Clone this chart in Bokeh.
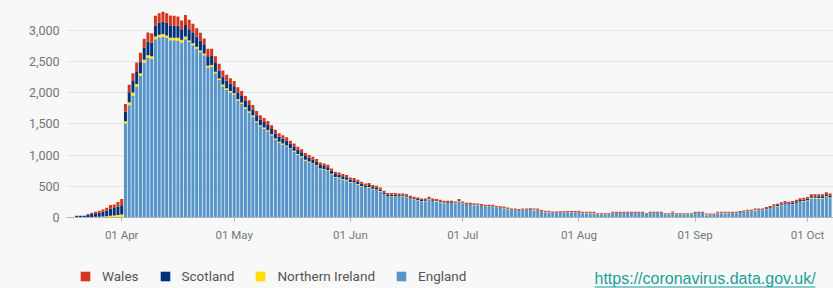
from datetime import datetime
import pandas as pd
from bokeh.plotting import figure
from bokeh.models import (ColumnDataSource, Range1d, FixedTicker, NumeralTickFormatter,
                          DatetimeTickFormatter, Legend, LegendItem, Label)
from bokeh.layouts import column
from bokeh.embed import file_html
from bokeh.resources import INLINE
from bokeh.core.properties import value

# ---------------- data ----------------
first_day = "2020-03-18"
last_day = "2020-10-07"

england = [
    0, 0, 0, 0, 0, 0, 0, 0, 0, 0, 0, 0, 0, 0, 0,
    1506, 1800, 1956, 2100, 2272, 2481, 2561, 2545, 2861, 2893, 2899, 2883, 2845, 2845, 2840, 2807, 2861, 2818,
    2765, 2710, 2650, 2602, 2408, 2419, 2313, 2205, 2107, 2051, 2007,
    1973, 1875, 1825, 1750, 1685, 1618, 1527, 1462, 1424, 1384, 1319, 1253, 1200, 1173, 1141,
    1098, 1057, 1006, 968, 912, 885, 860, 827, 776, 763, 746, 689, 640, 631, 609, 595,
    561, 553, 528, 498, 473, 482, 452, 441, 418, 367, 331, 334, 335, 332, 333, 325, 300, 285, 275, 260,
    261, 291, 264, 258, 245, 230, 231, 232, 222, 260,
    223, 202, 204, 198, 194, 185, 175, 175, 175, 155, 153, 148, 134, 119, 120, 110, 121, 121, 127, 113,
    122, 96, 85, 85, 75, 75, 79, 79, 82, 75, 82,
    87, 70, 70, 70, 70, 50, 50, 50, 50, 71, 71, 71, 71, 71, 71, 71, 71, 71, 51, 71,
    71, 71, 71, 50, 50, 76, 50, 50, 50, 50, 50,
    71, 71, 71, 38, 45, 45, 69, 69, 69, 69, 67, 66, 76, 87, 96, 96, 114, 113, 111, 131,
    143, 169, 178, 197, 215, 203, 211, 231, 249, 258,
    267, 302, 306, 304, 296, 333, 310,
]

northern_ireland = [
    0, 0, 0, 0, 0, 5, 8, 12, 13, 18, 21, 29, 34, 42, 50,
    37, 48, 48, 43, 43, 48, 43, 43, 43, 37, 43, 37, 37, 37, 43, 43, 43, 21,
    30, 30, 28, 27, 28, 27, 25, 25, 25, 22, 22,
    22, 20, 20, 20, 20, 18, 18, 18, 18, 16, 16, 16, 15, 15, 15,
    14, 14, 14, 13, 13, 13, 12, 12, 12, 11, 11, 11, 10, 10, 10, 10,
    9, 9, 9, 8, 8, 8, 8, 8, 7, 7, 7, 7, 7, 6, 6, 6, 6, 6, 6, 6,
    6, 5, 5, 5, 5, 5, 5, 5, 5, 5,
    5, 5, 5, 5, 4, 4, 4, 4, 4, 4, 4, 4, 4, 4, 3, 3, 3, 3, 3, 12,
    3, 3, 3, 3, 3, 3, 3, 3, 3, 10, 3,
    3, 3, 3, 3, 3, 3, 3, 3, 3, 3, 3, 3, 3, 3, 3, 3, 3, 3, 3, 3,
    3, 3, 3, 3, 3, 3, 3, 3, 3, 3, 3,
    3, 3, 3, 10, 3, 3, 3, 3, 3, 3, 3, 4, 4, 4, 4, 4, 5, 5, 5, 5,
    6, 6, 6, 6, 7, 7, 7, 7, 8, 8,
    8, 15, 9, 9, 16, 9, 10,
]

scotland = [
    10, 10, 28, 28, 27, 40, 52, 58, 65, 75, 90, 110, 120, 135, 145,
    155, 160, 187, 204, 187, 198, 214, 214, 171, 198, 203, 203, 203, 198, 193, 171, 182, 182,
    175, 165, 160, 150, 150, 145, 140, 130, 125, 120, 115,
    110, 110, 105, 100, 100, 95, 95, 90, 90, 85, 85, 80, 80, 75, 75,
    70, 68, 66, 64, 62, 60, 58, 56, 54, 52, 50, 48, 46, 44, 42, 40,
    38, 36, 35, 34, 32, 30, 29, 28, 26, 25, 24, 22, 21, 20, 19, 18, 17, 16, 15, 14,
    14, 13, 13, 12, 12, 11, 11, 10, 10, 10,
    9, 9, 8, 8, 8, 8, 7, 7, 7, 7, 6, 6, 6, 6, 6, 6, 5, 5, 5, 5,
    5, 5, 5, 5, 4, 4, 4, 4, 4, 4, 4,
    4, 4, 4, 4, 4, 4, 4, 4, 4, 4, 4, 4, 4, 4, 4, 4, 4, 4, 4, 5,
    5, 5, 5, 5, 5, 5, 5, 5, 5, 5, 5,
    5, 5, 5, 5, 5, 5, 6, 6, 6, 6, 7, 7, 8, 8, 9, 9, 10, 11, 12, 13,
    14, 15, 16, 17, 18, 19, 20, 21, 22, 23,
    24, 25, 26, 27, 28, 29, 30,
]

wales = [
    0, 0, 2, 2, 3, 10, 15, 22, 30, 35, 45, 60, 55, 70, 100,
    123, 123, 123, 139, 139, 139, 150, 155, 161, 150, 155, 155, 155, 155, 150, 139, 161, 150,
    140, 130, 125, 91, 120, 115, 110, 105, 100, 95, 90,
    85, 85, 80, 80, 75, 75, 70, 70, 65, 65, 60, 60, 55, 55, 55,
    50, 50, 50, 48, 48, 45, 45, 45, 42, 42, 40, 40, 38, 38, 36, 36,
    35, 35, 34, 34, 33, 33, 32, 32, 31, 30, 30, 29, 29, 28, 28, 27, 26, 26, 25, 25,
    24, 24, 23, 23, 22, 22, 21, 21, 20, 20,
    20, 20, 19, 19, 19, 18, 18, 18, 18, 17, 17, 17, 17, 16, 16, 16, 16, 16, 15, 15,
    15, 15, 15, 15, 14, 14, 14, 14, 14, 14, 14,
    14, 14, 14, 14, 14, 13, 13, 13, 13, 13, 13, 13, 13, 13, 13, 13, 13, 13, 12, 12,
    12, 12, 12, 12, 12, 12, 12, 12, 12, 12, 12,
    12, 12, 12, 12, 12, 12, 13, 13, 13, 13, 14, 14, 15, 15, 16, 16, 17, 17, 18, 19,
    20, 21, 22, 23, 24, 25, 26, 27, 28, 29,
    30, 30, 31, 32, 32, 33, 33,
]

stack_order = ["England", "Northern Ireland", "Scotland", "Wales"]
stack_colors = ["#5694ca", "#ffdd00", "#003078", "#d4351c"]
legend_order = ["Wales", "Scotland", "Northern Ireland", "England"]

y_ticks = [0, 500, 1000, 1500, 2000, 2500, 3000]
x_tick_dates = ["2020-04-01", "2020-05-01", "2020-06-01", "2020-07-01",
                "2020-08-01", "2020-09-01", "2020-10-01"]
x_tick_labels = ["01 Apr", "01 May", "01 Jun", "01 Jul", "01 Aug", "01 Sep", "01 Oct"]

source_url = "https://coronavirus.data.gov.uk/"

# ---------------- build ----------------
dates = pd.date_range(first_day, last_day, freq="D")
src = ColumnDataSource(dict(date=dates, England=england,
                            **{"Northern Ireland": northern_ireland},
                            Scotland=scotland, Wales=wales))

BG = "#f8f8f8"
TICK_COL = "#6f777b"
FONT = "Roboto"
LEFT = 66
W = 833
FRAME_W = W - LEFT

day = pd.Timedelta(days=1)
x_start = pd.Timestamp(first_day) - 0.73 * day
x_end = x_start + (FRAME_W / 3.748) * day

p = figure(width=W, height=258, x_axis_type="datetime",
           x_range=Range1d(x_start, x_end), y_range=Range1d(0, 3481),
           output_backend="svg", toolbar_location=None,
           min_border_left=LEFT, min_border_right=0, min_border_top=0, min_border_bottom=41,
           background_fill_color=BG, border_fill_color=BG, outline_line_color=None)

renderers = p.vbar_stack(stack_order, x="date", width=0.8 * 86400000, color=stack_colors,
                         line_color=None, source=src)

# y axis
p.yaxis.ticker = FixedTicker(ticks=y_ticks)
p.yaxis.formatter = NumeralTickFormatter(format="0,0")
p.yaxis.axis_line_color = None
p.yaxis.major_tick_line_color = None
p.yaxis.minor_tick_line_color = None
p.yaxis.major_tick_in = 0
p.yaxis.major_tick_out = 0
p.yaxis.major_label_standoff = 7
p.yaxis.major_label_text_font = FONT
p.yaxis.major_label_text_font_size = "12.5px"
p.yaxis.major_label_text_color = TICK_COL

# x axis
tick_ms = [pd.Timestamp(d).value // 10**6 for d in x_tick_dates]
p.xaxis.ticker = FixedTicker(ticks=tick_ms)
p.xaxis.formatter = DatetimeTickFormatter(days="%d %b", months="%d %b")
p.xaxis.major_label_overrides = {t: lab for t, lab in zip(tick_ms, x_tick_labels)}
p.xaxis.axis_line_color = "#b1b4b6"
p.xaxis.axis_line_width = 1
p.xaxis.major_tick_line_color = "#b1b4b6"
p.xaxis.major_tick_in = 0
p.xaxis.major_tick_out = 4
p.xaxis.minor_tick_line_color = None
p.xaxis.major_label_standoff = 6
p.xaxis.major_label_text_font = FONT
p.xaxis.major_label_text_font_size = "11.5px"
p.xaxis.major_label_text_color = TICK_COL

p.xgrid.grid_line_color = None
p.ygrid.grid_line_color = "#e6e6e6"
p.ygrid.grid_line_width = 1

# legend row (frame aligned with the chart frame; x in px from frame left)
p2 = figure(width=W, height=30, x_range=Range1d(0, FRAME_W), y_range=Range1d(0, 30),
            x_axis_type=None, y_axis_type=None, output_backend="svg", toolbar_location=None,
            min_border_left=LEFT, min_border_right=0, min_border_top=0, min_border_bottom=0,
            background_fill_color=BG, border_fill_color=BG, outline_line_color=None)
p2.grid.visible = False

color_of = dict(zip(stack_order, stack_colors))
items = []
for name in legend_order:
    # one off-screen point so the legend swatch has a colour to draw
    r = p2.vbar(x=[-100], top=[0], width=1, color=color_of[name], line_color=None)
    items.append(LegendItem(label=name, renderers=[r]))
leg = Legend(items=items, orientation="horizontal", location=(13, 4),
             glyph_width=12, glyph_height=12, label_standoff=11, spacing=20,
             padding=0, margin=0, background_fill_alpha=0, border_line_color=None,
             label_text_font=FONT, label_text_font_size="13.5px", label_text_color="#555555")
p2.add_layout(leg)

url_label = Label(x=528, y=10, text=source_url, text_font="Liberation Sans",
                  text_font_size="16px", text_color="#1a9e9a", text_baseline="middle")
p2.add_layout(url_label)
p2.segment(x0=[528], y0=[1.5], x1=[749], y1=[1.5], line_color="#1a9e9a", line_width=1.2)

layout = column(p, p2, spacing=0, background=BG)

open("out.html", "w").write(file_html(layout, INLINE))
